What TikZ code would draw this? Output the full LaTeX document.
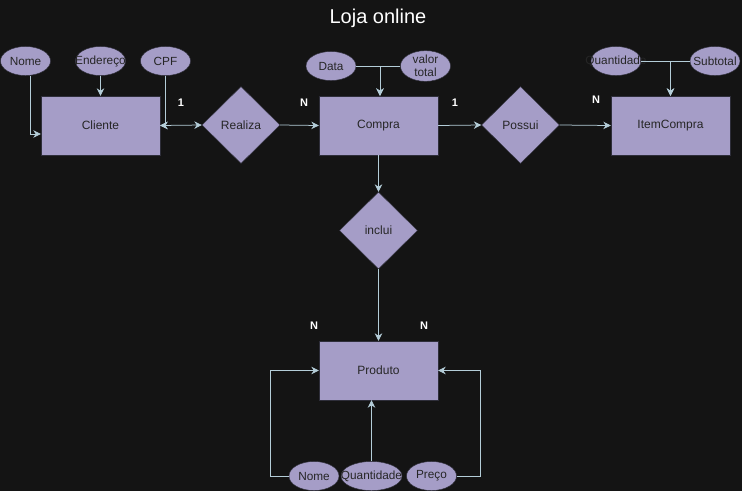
\documentclass[tikz,border=0pt]{standalone}
\usepackage{fontspec}
\setmainfont{Liberation Sans}
\usetikzlibrary{arrows.meta,shapes.geometric}
\definecolor{bgdark}{HTML}{141414}
\definecolor{boxfill}{HTML}{A59DC7}
\definecolor{boxline}{HTML}{2E2E3A}
\definecolor{wire}{HTML}{B4CDD8}
% attribute text may run over its ellipse
\newcommand{\attrtext}[1]{\makebox[0pt]{#1}}

\begin{document}
\begin{tikzpicture}[x=1pt,y=-1pt,
    entity/.style={draw=boxline,fill=boxfill,text=black!85,minimum width=119pt,minimum height=59pt,inner sep=0pt,font=\fontsize{12}{14}\selectfont},
    relation/.style={diamond,draw=boxline,fill=boxfill,text=black!85,minimum width=78pt,minimum height=77pt,inner sep=0pt,font=\fontsize{12}{14}\selectfont},
    attr/.style={ellipse,draw=boxline,fill=boxfill,text=black!85,minimum width=50pt,minimum height=29pt,inner sep=0pt,font=\fontsize{11.8}{13}\selectfont},
    link/.style={draw=wire,line width=0.75pt,-{Stealth[length=7.5pt,width=7.5pt]}},
    card/.style={text=white,font=\bfseries\fontsize{11}{13}\selectfont}]
    \useasboundingbox (0,0) rectangle (742,491);
    \fill[bgdark] (0,0) rectangle (742,491);

    % Title
    \node[text=white,font=\fontsize{20}{24}\selectfont] (titulo) at (378,18) {Loja online};

    % Entities and relations
    \node[entity] (cliente) at (100.5,125.5) {Cliente};
    \node[relation] (realiza) at (241,125) {Realiza};
    \node[entity] (compra) at (378.5,125.5) {Compra};
    \node[relation] (possui) at (520.5,125) {Possui};
    \node[entity] (item) at (670.5,125.5) {ItemCompra};
    \node[relation] (inclui) at (378.5,230.5) {inclui};
    \node[entity] (produto) at (378.5,370.5) {Produto};

    % Attributes
    \node[attr] (nomeC) at (25.5,61) {\attrtext{Nome}};
    \node[attr] (endC) at (100.5,61) {\attrtext{Endereço}};
    \node[attr] (cpf) at (165.5,61) {\attrtext{CPF}};
    \node[attr] (data) at (331,66) {\attrtext{Data}};
    \node[attr,align=center,font=\fontsize{11.8}{13}\selectfont] (valor) at (425.5,66) {valor\\total};
    \node[attr] (qtdI) at (616,61) {\attrtext{Quantidade}};
    \node[attr] (subtotal) at (715,61) {\attrtext{Subtotal}};
    \node[attr] (nomeP) at (314,476) {\attrtext{Nome}};
    \node[attr,minimum width=61pt] (qtdP) at (371.5,476) {\attrtext{Quantidade}};
    \node[attr] (preco) at (431.5,476) {\attrtext{Preço}};

    % Attribute links
    \draw[link] ([xshift=5pt]nomeC.south) |- ([yshift=-8.5pt]cliente.west);
    \draw[link] (endC.south) -- (cliente.north);
    \draw[link] (cpf.south) |- (cliente.east);
    \draw[link] (data.east) -| ([xshift=1.5pt]compra.north);
    \draw[link] (valor.west) -| ([xshift=1.5pt]compra.north);
    \draw[link] (qtdI.east) -| (item.north);
    \draw[link] (subtotal.west) -| (item.north);
    \draw[link] (nomeP.west) -- ++(-18,0) |- (produto.west);
    \draw[link] (qtdP.north) -- (qtdP.north |- produto.south);
    \draw[link] (preco.east) -- ++(24,0) |- (produto.east);

    % Relationship links
    \draw[link,{Stealth[length=7.5pt,width=7.5pt]}-{Stealth[length=7.5pt,width=7.5pt]}] (cliente.east) -- (realiza.west);
    \draw[link] (realiza.east) -- (compra.west);
    \draw[link] (compra.east) -- (possui.west);
    \draw[link] (possui.east) -- (item.west);
    \draw[link] (compra.south) -- (inclui.north);
    \draw[link] (inclui.south) -- (produto.north);

    % Cardinalities
    \node[card] (c1) at (181,103) {1};
    \node[card] (c2) at (304,103) {N};
    \node[card] (c3) at (455,103) {1};
    \node[card] (c4) at (596,100) {N};
    \node[card] (c5) at (314,326) {N};
    \node[card] (c6) at (424,326) {N};
\end{tikzpicture}
\end{document}
